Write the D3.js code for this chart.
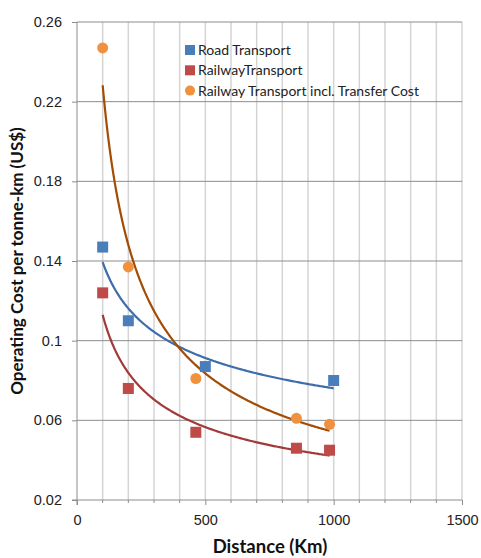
<!DOCTYPE html>
<html lang="en">
  <head>
    <meta charset="utf-8">
    <title>Operating Cost per tonne-km</title>
    <script src="https://cdnjs.cloudflare.com/ajax/libs/d3/7.8.5/d3.min.js"></script>
    <style type="text/css">
      body { margin: 0; background: #fff; }
      svg { display: block; font-family: 'Lato', 'Open Sans', sans-serif; }
      .tick text { font-size: 14.5px; fill: #222; }
      .legend text { font-size: 14px; fill: #222; }
    </style>
  </head>
  <body>
    <svg id="chart"></svg>
    <script type="text/javascript">
// data
var roadDist = [100, 200, 500, 1000];
var roadCost = [0.147, 0.110, 0.087, 0.080];
var railDist = [100, 200, 463, 855, 984];
var railCost = [0.124, 0.076, 0.054, 0.046, 0.045];
var transferDist = [100, 200, 463, 855, 984];
var transferCost = [0.247, 0.137, 0.081, 0.061, 0.058];
var xTicks = [0, 500, 1000, 1500];
var yTicks = [0.02, 0.06, 0.1, 0.14, 0.18, 0.22, 0.26];
var seriesNames = ["Road Transport", "RailwayTransport", "Railway Transport incl. Transfer Cost"];

var w = 481, h = 558;
var padLeft = 77, padRight = 462, padTop = 22, padBottom = 500;

var svg = d3.select("#chart").attr("width", w).attr("height", h);

var xScale = d3.scaleLinear().domain([0, 1500]).range([padLeft, padRight]);
var yScale = d3.scaleLinear().domain([0.02, 0.26]).range([padBottom, padTop]);

// power trendline (least squares on logs), like the spreadsheet does
function powerFit(xs, ys) {
  var lx = xs.map(Math.log), ly = ys.map(Math.log);
  var mx = d3.mean(lx), my = d3.mean(ly);
  var num = 0, den = 0;
  lx.forEach(function(v, i) { num += (v - mx) * (ly[i] - my); den += (v - mx) * (v - mx); });
  var b = num / den, a = Math.exp(my - b * mx);
  return function(x) { return a * Math.pow(x, b); };
}

var series = [
  { name: seriesNames[0], xs: roadDist, ys: roadCost, fill: "#4a7ebb", line: "#3f6dab", shape: "square" },
  { name: seriesNames[1], xs: railDist, ys: railCost, fill: "#be4b48", line: "#a23a3a", shape: "square" },
  { name: seriesNames[2], xs: transferDist, ys: transferCost, fill: "#f0913f", line: "#a34c05", shape: "circle" }
];

// vertical gridlines every 100
svg.append("g").selectAll("line")
  .data(d3.range(100, 1501, 100))
  .enter().append("line")
  .attr("x1", function(d) { return xScale(d); })
  .attr("x2", function(d) { return xScale(d); })
  .attr("y1", padTop).attr("y2", padBottom)
  .attr("stroke", "#d4d4d4").attr("stroke-width", 1.5);

// horizontal gridlines
svg.append("g").selectAll("line")
  .data(yTicks.slice(1))
  .enter().append("line")
  .attr("x1", padLeft).attr("x2", padRight)
  .attr("y1", function(d) { return yScale(d); })
  .attr("y2", function(d) { return yScale(d); })
  .attr("stroke", "#8c8c8c").attr("stroke-width", 1);

// axes
var xAxis = d3.axisBottom(xScale).tickValues(xTicks).tickFormat(d3.format("d")).tickSize(5);
var yAxis = d3.axisLeft(yScale).tickValues(yTicks).tickFormat(function(d) { return String(+d.toFixed(2)); }).tickSize(5);

var gx = svg.append("g")
  .attr("class", "x axis")
  .attr("transform", "translate(0," + padBottom + ")")
  .call(xAxis);
gx.selectAll(".tick text").attr("dy", "1.2em");
// minor ticks every 100
gx.selectAll(".minor").data(d3.range(100, 1500, 100).filter(function(d) { return d % 500 !== 0; }))
  .enter().append("line")
  .attr("class", "minor")
  .attr("x1", function(d) { return xScale(d); })
  .attr("x2", function(d) { return xScale(d); })
  .attr("y1", 0).attr("y2", 3)
  .attr("stroke", "#8c8c8c");

var gy = svg.append("g")
  .attr("class", "y axis")
  .attr("transform", "translate(" + padLeft + ",0)")
  .call(yAxis);
gy.selectAll(".tick text").attr("x", -15);

svg.selectAll(".axis .tick line").attr("stroke", "#8c8c8c");
gx.select(".domain").attr("stroke", "#8c8c8c").attr("d", "M" + (padLeft - 5) + ",0H" + padRight);
gy.select(".domain").attr("stroke", "#8c8c8c").attr("d", "M0," + (padBottom + 5) + "V" + padTop);

// trendlines
var line = d3.line()
  .x(function(d) { return xScale(d[0]); })
  .y(function(d) { return yScale(d[1]); });

series.forEach(function(s) {
  var f = powerFit(s.xs, s.ys);
  var x0 = d3.min(s.xs), x1 = d3.max(s.xs);
  var pts = d3.range(0, 201).map(function(i) { var x = x0 + (x1 - x0) * i / 200; return [x, f(x)]; });
  svg.append("path")
    .datum(pts)
    .attr("d", line)
    .attr("fill", "none")
    .attr("stroke", s.line)
    .attr("stroke-width", 2.2);
});

// markers
series.forEach(function(s) {
  var pts = s.xs.map(function(x, i) { return [x, s.ys[i]]; });
  if (s.shape === "square") {
    svg.append("g").selectAll("rect").data(pts).enter().append("rect")
      .attr("x", function(d) { return xScale(d[0]) - 5.5; })
      .attr("y", function(d) { return yScale(d[1]) - 5.5; })
      .attr("width", 11).attr("height", 11)
      .attr("fill", s.fill);
  } else {
    svg.append("g").selectAll("circle").data(pts).enter().append("circle")
      .attr("cx", function(d) { return xScale(d[0]); })
      .attr("cy", function(d) { return yScale(d[1]); })
      .attr("r", 5.5)
      .attr("fill", s.fill);
  }
});

// legend
var legend = svg.append("g").attr("class", "legend").attr("transform", "translate(185,50)");
series.forEach(function(s, i) {
  var g = legend.append("g").attr("transform", "translate(0," + (i * 20.3) + ")");
  if (s.shape === "square") {
    g.append("rect").attr("x", 0).attr("y", -5).attr("width", 10).attr("height", 10).attr("fill", s.fill);
  } else {
    g.append("circle").attr("cx", 5).attr("cy", 0).attr("r", 5).attr("fill", s.fill);
  }
  g.append("text").attr("x", 13).attr("y", 5).text(s.name);
});

// axis titles
svg.append("text")
  .attr("transform", "translate(23," + ((padTop + padBottom) / 2) + ") rotate(-90)")
  .attr("text-anchor", "middle")
  .style("font-size", "17px")
  .style("font-weight", "bold")
  .attr("fill", "#111")
  .text("Operating Cost per tonne-km (US$)");

svg.append("text")
  .attr("x", 270)
  .attr("y", 553)
  .attr("text-anchor", "middle")
  .style("font-size", "18.5px")
  .style("font-weight", "bold")
  .attr("fill", "#111")
  .text("Distance (Km)");
    </script>
  </body>
</html>
